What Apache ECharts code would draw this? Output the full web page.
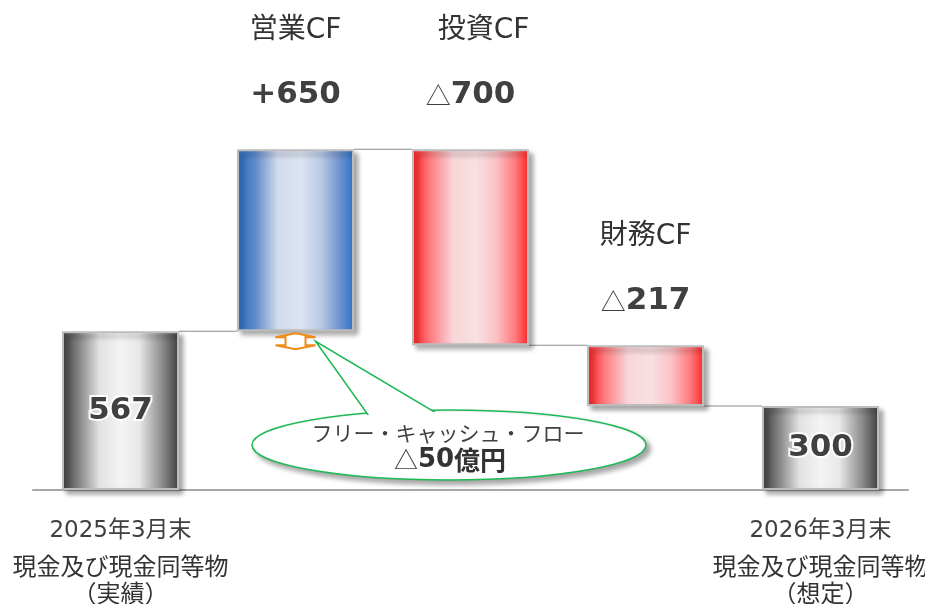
<!DOCTYPE html>
<html>
<head>
<meta charset="utf-8">
<script src="https://cdn.jsdelivr.net/npm/echarts@6/dist/echarts.min.js"></script>
<style>
  html, body { margin: 0; padding: 0; background: #ffffff; overflow: hidden; width: 925px; height: 604px; }
  #chart { width: 925px; height: 604px; overflow: hidden; }
</style>
</head>
<body>
<div id="chart"></div>
<script>
// Cash flow bridge (億円)
const categories = ['2025年3月末', '営業CF', '投資CF', '財務CF', '2026年3月末'];
const flowNames = ['営業CF', '投資CF', '財務CF'];
const startBalance = 567;
const flows = [650, -700, -217];
const endBalance = 300;
const axisTitles = {
  0: ['2025年3月末', '現金及び現金同等物', '（実績）'],
  4: ['2026年3月末', '現金及び現金同等物', '（想定）']
};
const fcfCaption = 'フリー・キャッシュ・フロー';
const fcfUnit = '億円';

// running balance after each step
const levels = [startBalance];
flows.forEach(f => levels.push(levels[levels.length - 1] + f));

const baseValues = [0];
const barValues = [startBalance];
flows.forEach((f, i) => {
  baseValues.push(Math.min(levels[i], levels[i + 1]));
  barValues.push(Math.abs(f));
});
baseValues.push(0);
barValues.push(endBalance);

const freeCashFlow = flows[0] + flows[1];

const BAR_WIDTH = 117;
const FONT = '"DejaVu Sans", "Noto Sans CJK JP"';

function hGrad(stops) {
  return new echarts.graphic.LinearGradient(0, 0, 1, 0,
    stops.map(s => ({ offset: s[0], color: s[1] })));
}
const greyFill = hGrad([[0, '#404040'], [0.12, '#777777'], [0.32, '#e2e2e2'], [0.5, '#f4f4f4'], [0.66, '#e8e8e8'], [0.86, '#8a8a8a'], [1, '#3e3e3e']]);
const blueFill = hGrad([[0, '#2a6ec1'], [0.15, '#5c88c9'], [0.35, '#d3dcee'], [0.55, '#dce4f1'], [0.72, '#b9c9e5'], [0.88, '#6f92cf'], [1, '#2d70c3']]);
const redFill = hGrad([[0, '#ff1c1c'], [0.15, '#fd7a7e'], [0.35, '#f8d6d9'], [0.55, '#f8e0e2'], [0.72, '#fbc2c6'], [0.88, '#fe7b7f'], [1, '#ff2626']]);

const barStyleBase = {
  borderColor: '#bdbdbd',
  borderWidth: 2,
  shadowBlur: 5,
  shadowOffsetX: 4,
  shadowOffsetY: 4,
  shadowColor: 'rgba(0,0,0,0.35)'
};

const balanceLabel = {
  show: true,
  position: 'inside',
  fontFamily: 'DejaVu Sans',
  fontWeight: 'bold',
  fontSize: 31,
  color: '#404040',
  textBorderColor: 'rgba(255,255,255,0.95)',
  textBorderWidth: 4
};

const flowRich = {
  n: { fontFamily: FONT, fontSize: 28, color: '#333333', lineHeight: 90 },
  m: { fontFamily: FONT, fontSize: 28, color: '#333333', lineHeight: 90, padding: [0, 0, 0, 26] },
  v: { fontFamily: 'DejaVu Sans', fontWeight: 'bold', fontSize: 31, color: '#404040', lineHeight: 40 },
  t: { fontFamily: 'Noto Sans CJK JP', fontSize: 25, color: '#404040', lineHeight: 40 }
};
const flowDistance = [34, 34, 24];
const flowNameStyle = ['n', 'm', 'n'];

function flowText(i) {
  const f = flows[i];
  const v = f > 0 ? '{v|+' + f + '}' : '{t|△}{v|' + (-f) + '}';
  return '{' + flowNameStyle[i] + '|' + flowNames[i] + '}\n' + v;
}

const barData = barValues.map((v, i) => {
  if (i === 0 || i === barValues.length - 1) {
    return {
      value: v,
      itemStyle: Object.assign({ color: greyFill }, barStyleBase),
      label: Object.assign({ formatter: String(v) }, balanceLabel)
    };
  }
  const f = flows[i - 1];
  return {
    value: v,
    itemStyle: Object.assign({ color: f > 0 ? blueFill : redFill }, barStyleBase),
    label: {
      show: true,
      position: 'top',
      distance: flowDistance[i - 1],
      formatter: flowText(i - 1),
      rich: flowRich
    }
  };
});

// connectors: level reached after each category, drawn to the next bar
const connectorData = levels.map((lv, i) => [i, lv]);

const option = {
  animation: false,
  grid: { left: 33, right: 17, top: 0, bottom: 114, containLabel: false, outerBoundsMode: 'none' },
  xAxis: {
    type: 'category',
    data: categories,
    axisLine: { lineStyle: { color: '#a8a8a8', width: 2 } },
    axisTick: { show: false },
    axisLabel: {
      interval: 0,
      margin: 21,
      formatter: (val, idx) => {
        const t = axisTitles[idx];
        return t ? '{a|' + t[0] + '}\n{b|' + t[1] + '}\n{c|' + t[2] + '}' : '';
      },
      rich: {
        a: { fontFamily: FONT, fontSize: 23, color: '#404040', lineHeight: 40 },
        b: { fontFamily: FONT, fontSize: 24, color: '#333333', lineHeight: 36 },
        c: { fontFamily: FONT, fontSize: 24, color: '#333333', lineHeight: 18 }
      }
    }
  },
  yAxis: { type: 'value', min: 0, max: 1750, show: false },
  series: [
    {
      type: 'custom',
      z: 1,
      silent: true,
      data: connectorData,
      renderItem: (params, api) => {
        const i = api.value(0);
        if (i >= categories.length - 1) return null;
        const p1 = api.coord([i, api.value(1)]);
        const p2 = api.coord([i + 1, api.value(1)]);
        const half = BAR_WIDTH / 2;
        return {
          type: 'line',
          shape: { x1: p1[0] + half, y1: p1[1], x2: p2[0] - half, y2: p2[1] },
          style: { stroke: '#8c8c8c', lineWidth: 1 }
        };
      }
    },
    {
      type: 'bar',
      stack: 'wf',
      z: 2,
      barWidth: BAR_WIDTH,
      silent: true,
      itemStyle: { color: 'transparent' },
      data: baseValues
    },
    {
      type: 'bar',
      stack: 'wf',
      z: 3,
      barWidth: BAR_WIDTH,
      silent: true,
      data: barData
    },
    {
      // free cash flow marker and callout
      type: 'custom',
      z: 10,
      silent: true,
      data: [[1, levels[0], levels[0] + freeCashFlow]],
      renderItem: (params, api) => {
        const top = api.coord([api.value(0), api.value(1)]);
        const bot = api.coord([api.value(0), api.value(2)]);
        const cx = top[0];
        const y0 = top[1] + 2, y1 = bot[1] + 4;
        const hw = 20, sw = 10, hh = 4;
        const arrow = [
          [cx, y0], [cx + hw, y0 + hh], [cx + sw, y0 + hh], [cx + sw, y1 - hh],
          [cx + hw, y1 - hh], [cx, y1], [cx - hw, y1 - hh], [cx - sw, y1 - hh],
          [cx - sw, y0 + hh], [cx - hw, y0 + hh]
        ];
        const tip = [cx + hw, (y0 + y1) / 2];
        const ex = 449, ey = 445, rx = 197, ry = 35;
        const green = '#1db954';
        const fcfText = (freeCashFlow < 0 ? '△' : '+') + Math.abs(freeCashFlow) + fcfUnit;
        return {
          type: 'group',
          children: [
            {
              type: 'ellipse',
              shape: { cx: ex, cy: ey, rx: rx, ry: ry },
              style: { fill: '#ffffff', stroke: green, lineWidth: 1.5,
                shadowBlur: 5, shadowOffsetX: 4, shadowOffsetY: 4, shadowColor: 'rgba(0,0,0,0.35)' }
            },
            {
              type: 'polygon',
              shape: { points: [tip, [371, 419], [443, 417]] },
              style: { fill: '#ffffff', stroke: green, lineWidth: 1.5 }
            },
            {
              type: 'ellipse',
              shape: { cx: ex, cy: ey, rx: rx - 2, ry: ry - 2 },
              style: { fill: '#ffffff' }
            },
            {
              type: 'polygon',
              shape: { points: arrow },
              style: { fill: '#ffffff', stroke: '#f08c1a', lineWidth: 2 }
            },
            {
              type: 'text',
              style: { text: fcfCaption, x: 448, y: 433, align: 'center', verticalAlign: 'middle',
                font: '21px "Noto Sans CJK JP"', fill: '#404040' }
            },
            {
              type: 'text',
              style: {
                text: '{t|' + fcfText.slice(0, 1) + '}{v|' + fcfText.slice(1, -fcfUnit.length) + '}{u|' + fcfUnit + '}',
                x: 450, y: 460, align: 'center', verticalAlign: 'middle',
                rich: {
                  t: { fontFamily: 'Noto Sans CJK JP', fontSize: 24, fill: '#404040' },
                  v: { fontFamily: 'DejaVu Sans', fontWeight: 'bold', fontSize: 26, fill: '#333333' },
                  u: { fontFamily: 'Noto Sans CJK JP', fontWeight: 'bold', fontSize: 26, fill: '#333333' }
                }
              }
            }
          ]
        };
      }
    }
  ]
};

const chart = echarts.init(document.getElementById('chart'), null, { renderer: 'canvas' });
chart.setOption(option);
</script>
</body>
</html>
